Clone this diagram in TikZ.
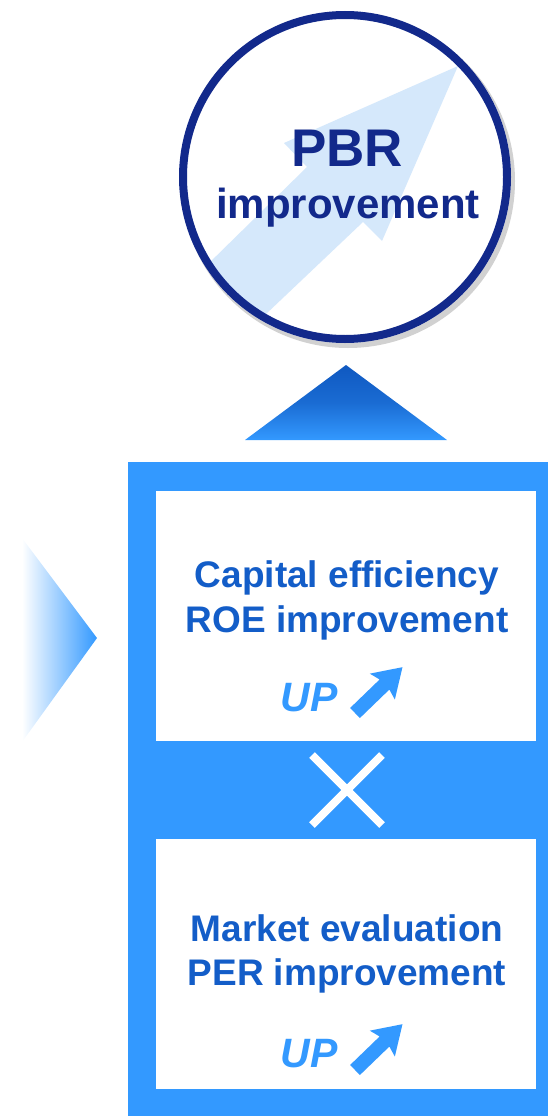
\documentclass[tikz,border=0pt]{standalone}
\usepackage{fontspec}
\setmainfont{Liberation Sans}
\usetikzlibrary{positioning}
\definecolor{navyblue}{HTML}{12298B}
\definecolor{paleblue}{HTML}{D5E8FB}
\definecolor{framblue}{HTML}{3399FF}
\definecolor{deepblue}{HTML}{0F58C0}
\definecolor{txtblue}{HTML}{135DC8}
\tikzset{
    whitebox/.style={fill=white,draw=none,minimum width=380pt,minimum height=250pt,inner sep=0pt},
    boxtext/.style={text=txtblue,font=\bfseries\fontsize{37}{44}\selectfont,inner sep=0pt,anchor=base},
    uptext/.style={text=framblue,font=\bfseries\itshape\fontsize{41}{48}\selectfont,inner sep=0pt,anchor=base east},
    uparrow/.style={fill=framblue,draw=none}
}

\begin{document}
\begin{tikzpicture}[x=1pt,y=-1pt]
            \useasboundingbox (0,0) rectangle (548,1116);
            % circle on top
            \fill[black,opacity=0.18] (348,181) circle (167);
            \fill[white] (345,177) circle (166);
            \begin{scope}
                \clip (345,177) circle (160);
                \fill[paleblue] (152,319)--(307,167)--(284,143)--(458,66)--(382,241)--(363,222)--(207,370)--cycle;
            \end{scope}
            \node[circle,draw=navyblue,line width=8pt,minimum size=324pt,inner sep=0pt] (pbr) at (345,177) {};
            \node[text=navyblue,font=\bfseries\fontsize{53}{60}\selectfont,inner sep=0pt,anchor=base] (pbrtop) at (347,166) {PBR};
            \node[text=navyblue,font=\bfseries\fontsize{42}{50}\selectfont,inner sep=0pt,anchor=base] (pbrbot) at (348,218) {improvement};

            % triangles
            \shade[top color=deepblue,bottom color=framblue,middle color=deepblue!70!framblue] (346,365)--(447,440)--(245,440)--cycle;
            \shade[left color=white,right color=framblue] (22,538)--(97,638)--(22,742)--cycle;

            % frame with two boxes
            \fill[framblue] (128,462) rectangle (548,1116);
            \node[whitebox,anchor=north west] (roebox) at (156,491) {};
            \node[whitebox,anchor=north west] (perbox) at (156,839) {};

            \node[boxtext] (roe1) at (347,587) {Capital efficiency};
            \node[boxtext] (roe2) at (347,632) {ROE improvement};
            \node[boxtext] (per1) at (347,941) {Market evaluation};
            \node[boxtext] (per2) at (347,985) {PER improvement};

            \node[uptext] (up1) at (338,711) {UP};
            \node[uptext] (up2) at (338,1067) {UP};
            \foreach \ty in {713,1070}{
                \fill[uparrow,shift={(355,\ty)},rotate=44] (0,-7)--(41,-7)--(38,-18)--(66,0)--(38,18)--(41,7)--(0,7)--cycle;
            }

            % times sign
            \draw[white,line width=8pt] (312,755)--(382,825) (312,825)--(382,755);
        \end{tikzpicture}
\end{document}
